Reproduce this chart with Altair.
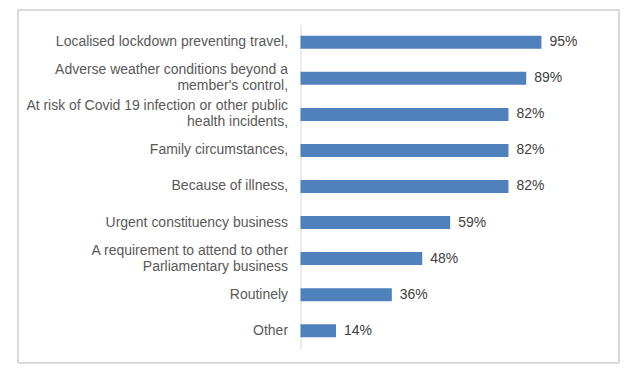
import altair as alt
import pandas as pd

categories = [
    ["Localised lockdown preventing travel,"],
    ["Adverse weather conditions beyond a", "member's control,"],
    ["At risk of Covid 19 infection or other public", "health incidents,"],
    ["Family circumstances,"],
    ["Because of illness,"],
    ["Urgent constituency business"],
    ["A requirement to attend to other", "Parliamentary business"],
    ["Routinely"],
    ["Other"],
]
values = [0.95, 0.89, 0.82, 0.82, 0.82, 0.59, 0.48, 0.36, 0.14]
labels = ["95%", "89%", "82%", "82%", "82%", "59%", "48%", "36%", "14%"]

keys = [" / ".join(c) for c in categories]
df = pd.DataFrame({"key": keys, "value": values, "label": labels})


def q(s):
    return "'" + s.replace("'", "\\'") + "'"


expr_parts = []
for k, c in zip(keys, categories):
    arr = "[" + ",".join(q(s) for s in c) + "]"
    expr_parts.append(f"datum.value == {q(k)} ? {arr}")
label_expr = " : ".join(expr_parts) + " : datum.value"

FONT = "Liberation Sans"
BLUE = "#4F81BD"
TXT = "#595959"
VAL_TXT = "#404040"

y_enc = alt.Y(
    "key:N",
    sort=keys,
    scale=alt.Scale(paddingInner=0.64, paddingOuter=0.32),
    axis=alt.Axis(
        title=None,
        ticks=False,
        domain=True,
        domainColor="#d9d9d9",
        domainWidth=1,
        labelFont=FONT,
        labelFontSize=14,
        labelColor=TXT,
        labelPadding=13,
        labelLineHeight=16,
        labelLimit=300,
        labelExpr=label_expr,
        labelOffset={
            "condition": {"test": "indexof(datum.value, ' / ') >= 0", "value": -8},
            "value": 0,
        },
        grid=False,
    ),
)
x_enc = alt.X(
    "value:Q",
    scale=alt.Scale(domain=[0, 1], nice=False, zero=True),
    axis=None,
)

bars = alt.Chart(df).mark_bar(color=BLUE).encode(x=x_enc, y=y_enc)
text = alt.Chart(df).mark_text(
    align="left", baseline="middle", dx=8, font=FONT, fontSize=14, color=VAL_TXT
).encode(x=x_enc, y=y_enc, text="label:N")

frame = alt.Chart(df).mark_rect(
    fill=None, stroke="#d9d9d9", strokeWidth=1, clip=False
).encode(
    x=alt.value(-283), x2=alt.value(319), y=alt.value(-14.5), y2=alt.value(339)
)

chart = (
    alt.layer(frame, bars, text)
    .properties(
        width=254,
        height=325,
        padding={"left": 17, "top": 9, "right": 8, "bottom": 12},
        background="white",
    )
    .configure_view(stroke=None)
)

chart.save("out.html", embed_options={"renderer": "svg", "actions": False})
